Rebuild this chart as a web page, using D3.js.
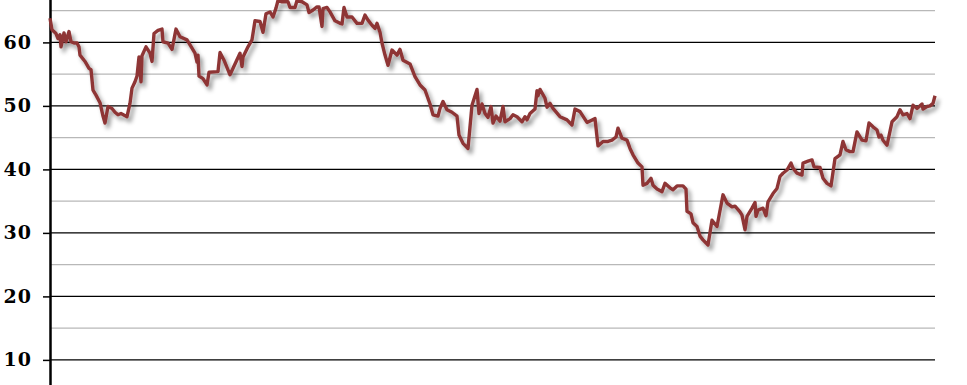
<!DOCTYPE html>
<html>
<head>
<meta charset="utf-8">
<script src="https://cdn.jsdelivr.net/npm/d3@7"></script>
<style>
  html, body { margin: 0; padding: 0; background: #fff; }
  #chart { width: 967px; height: 385px; overflow: hidden; }
</style>
</head>
<body>
<div id="chart"></div>
<script>
// week index along the series
const weeks = [0,2,6,8,10,11,14,16,19,21,24,27,29,30,35,39,41,43,46,50,53,55,58,62,65,68,71,77,80,82,85,87,89,91,92,96,100,102,104,108,112,113,118,122,126,130,137,142,145,147,148,149,153,157,159,168,170,174,180,190,192,193,198,202,205,210,213,216,220,223,226,228,232,238,240,245,247,252,257,259,263,267,269,272,273,277,280,285,290,292,294,297,302,307,312,315,318,322,325,327,330,332,335,338,342,347,350,353,360,365,370,375,380,383,388,390,393,397,402,407,409,413,418,422,427,429,432,435,438,441,443,446,450,453,455,460,463,467,472,475,477,480,485,487,488,490,495,497,500,503,510,517,522,525,530,537,545,548,553,558,562,566,568,572,577,580,583,588,592,593,597,601,603,607,612,615,620,623,627,633,636,637,641,643,647,650,653,658,662,667,673,677,682,685,690,692,695,697,702,705,706,708,713,716,718,723,727,730,733,737,741,743,747,752,753,758,762,764,770,773,777,781,785,790,793,796,800,803,807,812,816,819,823,827,829,831,833,837,842,847,850,853,857,860,863,867,872,873,877,880,883,885];

const values = [63.8,62.0,61.4,60.6,61.2,59.3,61.5,60.1,61.7,60.1,59.9,59.9,59.3,58.0,57.0,55.9,55.7,52.5,51.7,50.5,48.4,47.3,49.9,49.6,49.0,48.6,48.8,48.3,50.4,52.8,53.8,54.7,57.7,53.8,57.9,59.3,58.3,57.0,61.4,61.9,62.1,60.1,59.9,58.9,62.1,60.9,60.4,59.1,58.3,56.9,58.0,54.7,54.3,53.3,55.3,55.4,58.4,57.2,54.9,58.3,56.2,57.7,59.3,60.4,63.4,63.3,61.6,64.5,64.8,64.0,65.4,66.6,66.4,66.4,65.5,65.5,66.6,66.4,65.9,64.7,65.1,65.6,65.6,62.5,65.3,65.5,64.8,63.4,63.0,62.9,65.5,64.0,64.0,63.0,63.0,64.3,63.5,62.7,62.2,63.0,61.6,59.9,58.0,56.4,58.8,58.0,58.9,57.2,56.6,54.6,53.3,52.5,50.3,48.6,48.4,49.6,50.7,49.4,49.0,48.4,45.4,44.1,43.3,50.1,52.6,48.8,50.3,48.8,48.2,49.9,47.3,48.4,47.6,49.9,47.5,48.0,48.6,48.3,47.5,48.3,47.8,48.8,49.5,52.4,51.6,52.6,51.2,49.8,50.4,49.6,48.3,47.8,47.0,49.5,49.1,47.4,48.0,43.7,44.4,44.4,44.6,45.1,46.5,44.9,44.6,43.3,42.3,41.0,40.4,37.5,37.8,38.6,37.5,36.9,36.5,37.8,37.1,36.8,37.4,37.4,36.9,33.4,33.0,31.6,31.0,29.5,28.9,28.1,32.0,31.0,36.0,34.7,34.1,34.2,33.3,32.8,30.5,32.6,33.9,34.8,32.6,33.6,33.9,32.7,34.9,36.2,37.0,38.9,39.4,39.9,41.0,40.2,39.4,39.1,41.0,41.3,41.5,40.4,40.3,38.6,37.8,37.4,41.7,42.3,44.4,43.1,42.8,42.8,45.9,44.6,44.5,47.3,46.7,46.2,45.1,45.4,44.6,43.8,47.5,48.3,49.4,48.6,48.8,48.0,50.1,49.6,50.3,49.5,49.9,50.0,50.4,51.6];

const majorTicks = [0, 10, 20, 30, 40, 50, 60, 70];
const minorTicks = [5, 15, 25, 35, 45, 55, 65];

const width = 967;
const height = 385;
// the picture is a crop: the 0 and 70 lines fall outside it
const plot = { left: 50, right: 935, top: -21.1, bottom: 423.4 };

const svg = d3.select('#chart')
  .append('svg')
  .attr('width', width)
  .attr('height', height);

const x = d3.scaleLinear()
  .domain([0, d3.max(weeks)])
  .range([plot.left, plot.right]);

const y = d3.scaleLinear()
  .domain([0, 70])
  .range([plot.bottom, plot.top]);

// drop shadow for the line
const defs = svg.append('defs');
const shadow = defs.append('filter')
  .attr('id', 'shadow')
  .attr('x', '-5%').attr('y', '-20%')
  .attr('width', '110%').attr('height', '140%');
shadow.append('feDropShadow')
  .attr('dx', 3)
  .attr('dy', 4)
  .attr('stdDeviation', 2)
  .attr('flood-color', '#000')
  .attr('flood-opacity', 0.4);

// minor grid
svg.append('g')
  .selectAll('line')
  .data(minorTicks)
  .enter().append('line')
  .attr('x1', plot.left)
  .attr('x2', plot.right)
  .attr('y1', d => y(d))
  .attr('y2', d => y(d))
  .style('stroke', '#b8b8b8')
  .style('stroke-width', '1.3px');

// major grid
svg.append('g')
  .selectAll('line')
  .data(majorTicks)
  .enter().append('line')
  .attr('x1', plot.left)
  .attr('x2', plot.right)
  .attr('y1', d => y(d))
  .attr('y2', d => y(d))
  .style('stroke', '#000')
  .style('stroke-width', '1.3px');

// Y axis
const yAxis = svg.append('g')
  .attr('transform', `translate(${plot.left},0)`)
  .call(d3.axisLeft(y).tickValues(majorTicks.filter(d => d > 0 && d < 70))
    .tickSize(7).tickPadding(11).tickSizeOuter(0));

yAxis.select('.domain')
  .style('stroke', '#000')
  .style('stroke-width', '2.5px');

yAxis.selectAll('.tick line')
  .style('stroke', '#000')
  .style('stroke-width', '1.5px');

yAxis.selectAll('text')
  .style('font-family', 'Georgia, "DejaVu Serif", serif')
  .style('font-size', '19px')
  .style('font-weight', 'bold')
  .style('letter-spacing', '1px')
  .style('fill', '#000');

// the line
const line = d3.line()
  .x((d, i) => x(weeks[i]))
  .y(d => y(d));

svg.append('path')
  .datum(values)
  .attr('d', line)
  .attr('fill', 'none')
  .attr('filter', 'url(#shadow)')
  .style('stroke', '#8e3636')
  .style('stroke-width', '3.4px')
  .style('stroke-linejoin', 'round');
</script>
</body>
</html>
